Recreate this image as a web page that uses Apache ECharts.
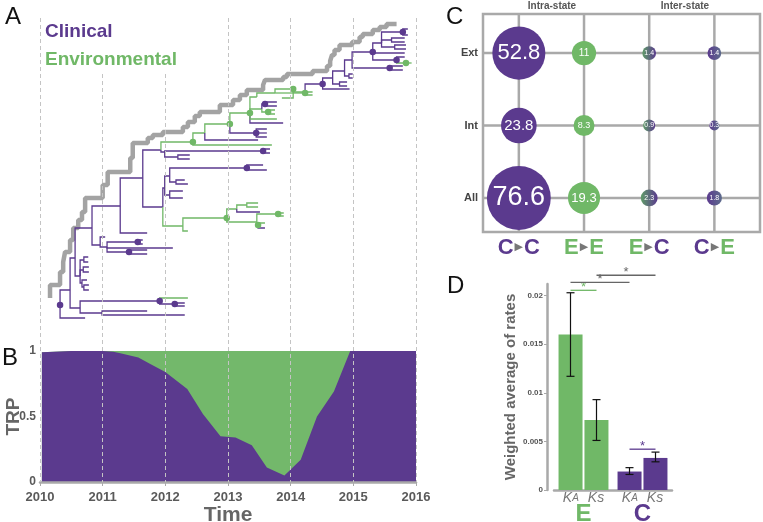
<!DOCTYPE html>
<html>
<head>
<meta charset="utf-8">
<script src="https://cdn.jsdelivr.net/npm/echarts@6/dist/echarts.min.js"></script>
<style>
html,body{margin:0;padding:0;background:#fff;}
#main{width:763px;height:522px;}
</style>
</head>
<body>
<div id="main"></div>
<script>
// colours
var PURPLE = '#5b3a8e', GREEN = '#70b867', AXIS = '#a9a9a9', TEXT = '#5a5a5a';
var FONT = '"Liberation Sans", Arial, sans-serif';

// ---- panel A : time-scaled tree (time in years, row = vertical slot, top to bottom)
var treeParent = [-1,0,0,1,3,4,5,5,4,3, 9,9,1,12,13,14,14,13,17,17,
  13,20,20,22,22,12,25,26,26,28, 29,29,28,32,32,28,25,36,36,38,
  38,40,41,42,43,43,42,46,46,41, 49,49,40,52,52,54,55,56,56,55,
  54,60,61,61,60,64,64,39,39,68, 69,69,68,72,72,67,67,76,76,78,
  79,79,79,78,83,83,83,86,87,87, 86,90,90,83,93,94,95,94,95,97,
  97,100,100,102,103,103,102,106,107,107, 106,110,110,112,112,111,111,116,117,116,
  115,120,120,115,123,123,115,126,126,111];
var treeTime = [2010.32,2010.48,2010.72,2010.64,2011.91,2012.15,2012.31,2012.31,2012.36,2010.99,
  2011.71,2012.31,2010.56,2010.64,2010.70,2010.77,2010.77,2010.69,2010.78,2010.78,
  2010.67,2010.75,2010.70,2010.78,2010.78,2010.83,2010.96,2011.04,2011.07,2011.42,
  2011.71,2011.71,2011.56,2011.64,2011.64,2012.12,2011.28,2011.71,2011.64,2011.93,
  2011.96,2011.99,2012.07,2013.30,2013.56,2013.62,2012.17,2012.31,2012.36,2012.07,
  2012.28,2012.28,2012.28,2012.36,2012.98,2013.14,2013.30,2013.48,2013.48,2013.51,
  2013.46,2013.80,2013.89,2013.89,2013.48,2013.59,2013.59,2012.44,2011.99,2013.56,
  2013.67,2013.67,2012.20,2012.39,2012.39,2013.70,2012.63,2013.48,2013.03,2013.45,
  2013.62,2013.62,2013.62,2013.35,2013.88,2013.78,2013.54,2013.64,2013.75,2013.75,
  2013.59,2013.78,2013.78,2013.46,2013.75,2014.04,2013.86,2014.23,2014.35,2014.35,
  2014.51,2014.94,2014.67,2014.78,2014.90,2014.90,2014.86,2014.93,2014.99,2014.99,
  2014.98,2015.31,2015.58,2015.79,2015.79,2015.45,2015.69,2015.84,2015.93,2015.82,
  2015.79,2015.87,2015.87,2015.61,2015.82,2015.82,2015.66,2015.84,2015.84,2015.82];
var treeRow = [305,290,318,308,301,304,303,306,298,313,
  311,315,258,276,260,257,262,270,267,272,
  283,280,287,285,290,228,245,237,247,252,
  250,254,242,240,244,248,206,233,178,150,
  207,188,176,168,165,170,182,180,184,195,
  191,198,226,231,218,209,205,203,207,212,
  222,214,213,216,225,223,228,142,152,151,
  149,153,157,155,159,145,133,140,124,133,
  129,133,137,113,123,119,109,112,110,114,
  104,102,106,97,93,89,98,93,92,95,
  84,89,78,84,82,86,71,76,74,78,
  60,52,68,66,70,43,60,63,63,57,
  32,29,35,40,38,42,47,45,49,53];
var envNodes = [8,52,53,54,55,56,57,58,60,61,62,63,64,65,67,75,76,78,83,85,86,87,88,89,93,94,95,96,97,98,99,117,118];
var dotNodes = [0,4,5,29,32,43,54,61,64,67,69,78,79,83,87,90,95,97,100,111,112,116,117,120];
var stairTime = [2010.16,2010.32,2010.37,2010.40,2010.48,2010.53,2010.61,2010.67,2010.72,2011.00,
  2011.08,2011.44,2011.48,2011.72,2011.80,2011.96,2012.28,2012.36,2012.47,2012.55,
  2012.87,2013.08,2013.19,2013.30,2013.56,2013.59,2013.88,2013.94,2014.35,2014.58,
  2014.63,2014.66,2014.70,2014.78,2014.98,2015.10,2015.15,2015.31,2015.42,2015.53,2015.69];
var stairRow = [298,285,272,262,252,240,228,220,212,198,
  185,172,158,143,138,135,132,127,122,116,
  112,105,100,95,90,85,80,77,74,71,
  66,61,55,50,45,42,37,34,30,27,24];

// ---- panel B : trunk reward proportion
var trpYears = [2010.03,2010.5,2010.8,2011.0,2011.17,2011.3,2011.57,2011.76,2012.0,2012.35,2012.6,
  2012.88,2013.12,2013.38,2013.62,2013.9,2014.16,2014.42,2014.69,2014.95,2015.5,2016.0];
var trpClinical = [0.99,1.0,1.0,1.0,0.995,0.98,0.95,0.90,0.84,0.71,0.52,
  0.35,0.34,0.28,0.11,0.05,0.17,0.50,0.69,1.0,1.0,1.0];
var trpEnvironmental = [0,0,0,0,0.005,0.02,0.05,0.10,0.16,0.29,0.48,
  0.65,0.66,0.72,0.89,0.95,0.83,0.50,0.31,0,0,0];

// ---- panel C : transition counts (rows All, Int, Ext)
var rowNames = ['All', 'Int', 'Ext'];
var colFrom = ['C', 'E', 'E', 'C'];
var colTo = ['C', 'E', 'C', 'E'];
var rateCC = [76.6, 23.8, 52.8];
var rateEE = [19.3, 8.3, 11];
var rateEC = [2.3, 0.9, 1.4];
var rateCE = [1.8, 0.3, 1.4];

// ---- panel D : weighted average of rates
var dGroups = ['E', 'C'];
var kaMean = [0.0160, 0.0019];
var ksMean = [0.0072, 0.0033];
var kaLow = [0.0117, 0.0016];
var kaHigh = [0.0203, 0.0023];
var ksLow = [0.0051, 0.0029];
var ksHigh = [0.0093, 0.0039];
var sigFrom = [0, 0, 1, 2];
var sigTo = [1, 2, 3, 3];
var sigLevel = [0.02055, 0.02137, 0.0221, 0.0042];

// ---------------------------------------------------------------
function isEnv(i) { return envNodes.indexOf(i) >= 0; }

var treeData = treeParent.map(function (p, i) {
  var q = p < 0 ? i : p;
  return [treeTime[q], treeTime[i], treeRow[q], treeRow[i], isEnv(i) ? 1 : 0];
});
var dotData = dotNodes.map(function (i) {
  return { value: [treeTime[i], treeRow[i]], itemStyle: { color: isEnv(i) ? GREEN : PURPLE } };
});
var stairData = stairTime.map(function (t, i) { return [t, stairRow[i]]; });
// stacked by hand: environmental sits on top of clinical
var clinData = trpYears.map(function (t, i) { return [t, trpClinical[i]]; });
var envTopData = trpYears.map(function (t, i) { return [t, trpClinical[i] + trpEnvironmental[i]]; });

var C_XMIN = -0.55, C_XMAX = 3.7, C_YMIN = -0.47, C_YMAX = 2.54;
var rateCols = [rateCC, rateEE, rateEC, rateCE];
var bubbleFill = [
  PURPLE, GREEN,
  new echarts.graphic.LinearGradient(0, 0, 1, 0, [{ offset: 0, color: '#5f9c68' }, { offset: 1, color: PURPLE }]),
  new echarts.graphic.LinearGradient(0, 0, 1, 0, [{ offset: 0, color: PURPLE }, { offset: 1, color: '#5d6c8c' }])
];
function bubbleSize(v) {
  return Math.max(7.3 * Math.sqrt(v), 9 + 3.4 * Math.min(v, 2.5));
}
var bubbles = [];
rateCols.forEach(function (col, c) {
  col.forEach(function (v, r) {
    var d = bubbleSize(v);
    bubbles.push({ value: [c, r, v], itemStyle: { color: bubbleFill[c], opacity: 1 },
      label: { fontSize: Math.max(7, Math.round(d * 0.42)) } });
  });
});
var cGrid = [];
colFrom.forEach(function (f, c) { cGrid.push([c, C_YMIN, c, C_YMAX]); });
rowNames.forEach(function (n, r) { cGrid.push([C_XMIN, r, C_XMAX, r]); });

var errData = [];
dGroups.forEach(function (g, i) {
  errData.push([i, kaLow[i], kaHigh[i], -1]);
  errData.push([i, ksLow[i], ksHigh[i], 1]);
});
var sigColors = [GREEN, '#666', '#666', PURPLE];
var sigData = sigFrom.map(function (f, i) { return [f, sigTo[i], sigLevel[i], i]; });
var BAR_OFF = 13;

var chart = echarts.init(document.getElementById('main'));
chart.setOption({
  animation: false,
  backgroundColor: '#fff',
  textStyle: { fontFamily: FONT },
  grid: [
    { left: 40, top: 18, width: 376, height: 464, outerBoundsMode: 'none' },
    { left: 40, top: 351, width: 376, height: 131, outerBoundsMode: 'none' },
    { left: 483, top: 14, width: 277, height: 218, show: true, borderColor: AXIS, borderWidth: 2.5,
      outerBoundsMode: 'none' },
    { left: 554, top: 284, width: 118, height: 206, outerBoundsMode: 'none' }
  ],
  xAxis: [
    { gridIndex: 0, type: 'value', min: 2010, max: 2016, interval: 1, z: 5,
      axisLine: { show: false }, axisTick: { show: false }, axisLabel: { show: false },
      splitLine: { show: true, lineStyle: { type: [4, 3], color: '#c4c4c4', width: 1 } } },
    { gridIndex: 1, type: 'value', min: 2010, max: 2016, interval: 1, z: 3,
      axisLine: { lineStyle: { color: AXIS, width: 2.5 } },
      axisTick: { show: true, length: 4, lineStyle: { color: AXIS, width: 1 } },
      axisLabel: { margin: 9, color: TEXT, fontWeight: 'bold', fontSize: 13,
        formatter: function (v) { return String(v); } },
      splitLine: { show: false },
      name: 'Time', nameLocation: 'middle', nameGap: 20,
      nameTextStyle: { color: '#666', fontWeight: 'bold', fontSize: 21 } },
    { gridIndex: 2, type: 'value', min: C_XMIN, max: C_XMAX,
      axisLine: { show: false }, axisTick: { show: false }, splitLine: { show: false },
      axisLabel: { customValues: [0, 1, 2, 3], margin: 5,
        formatter: function (v) {
          var c = Math.round(v);
          return '{' + colFrom[c] + '|' + colFrom[c] + '}{t|\u25B6}{' + colTo[c] + '|' + colTo[c] + '}';
        },
        rich: {
          C: { color: PURPLE, fontSize: 22, fontWeight: 'bold', fontFamily: FONT },
          E: { color: GREEN, fontSize: 22, fontWeight: 'bold', fontFamily: FONT },
          t: { color: '#777', fontSize: 11, fontFamily: 'DejaVu Sans', padding: [0, 1, 2, 1] }
        } } },
    { gridIndex: 3, type: 'category', data: dGroups,
      axisLine: { lineStyle: { color: AXIS, width: 2.5 } }, axisTick: { show: false },
      axisLabel: { margin: 2, interval: 0,
        formatter: function (v) {
          return '{k|K}{a|A}{g|}{k|K}{s|s}\n{' + v + '|' + v + '}';
        },
        rich: {
          k: { fontStyle: 'italic', fontSize: 14, color: '#777', lineHeight: 13 },
          a: { fontStyle: 'italic', fontSize: 10, color: '#777', lineHeight: 13 },
          s: { fontStyle: 'italic', fontSize: 14, color: '#777', lineHeight: 13 },
          g: { width: 9 },
          E: { fontSize: 24, fontWeight: 'bold', color: GREEN, lineHeight: 19 },
          C: { fontSize: 24, fontWeight: 'bold', color: PURPLE, lineHeight: 19 }
        } } }
  ],
  yAxis: [
    { gridIndex: 0, type: 'value', min: 18, max: 482, inverse: true, show: false },
    { gridIndex: 1, type: 'value', min: 0, max: 1, interval: 0.5,
      axisLine: { show: false }, axisTick: { show: false }, splitLine: { show: false },
      axisLabel: { margin: 4, color: TEXT, fontWeight: 'bold', fontSize: 12 },
      name: 'TRP', nameLocation: 'middle', nameGap: 17, nameMoveOverlap: false,
      nameTextStyle: { color: '#666', fontWeight: 'bold', fontSize: 19 } },
    { gridIndex: 2, type: 'value', min: C_YMIN, max: C_YMAX,
      axisLine: { show: false }, axisTick: { show: false }, splitLine: { show: false },
      axisLabel: { customValues: [0, 1, 2], margin: 5, color: '#444', fontWeight: 'bold', fontSize: 11,
        formatter: function (v) { return rowNames[Math.round(v)]; } } },
    { gridIndex: 3, type: 'value', min: 0, max: 0.0212, interval: 0.005, offset: 7,
      axisLine: { show: true, lineStyle: { color: AXIS, width: 2.5 } },
      axisTick: { show: true, length: 3, lineStyle: { color: AXIS } },
      splitLine: { show: false },
      axisLabel: { margin: 4, color: '#555', fontWeight: 'bold', fontSize: 8, showMaxLabel: false },
      name: 'Weighted average of rates', nameLocation: 'middle', nameGap: 29,
      nameTextStyle: { color: '#666', fontWeight: 'bold', fontSize: 15 } }
  ],
  series: [
    { type: 'line', name: 'lineages', xAxisIndex: 0, yAxisIndex: 0, data: stairData, step: 'start',
      symbol: 'none', lineStyle: { color: '#a3a3a3', width: 4.5 }, z: 2, silent: true },
    { type: 'custom', name: 'tree', xAxisIndex: 0, yAxisIndex: 0, data: treeData, z: 3,
      encode: { x: [0, 1], y: [2, 3] },
      renderItem: function (params, api) {
        var a = api.coord([api.value(0), api.value(2)]);
        var b = api.coord([api.value(0), api.value(3)]);
        var c = api.coord([api.value(1), api.value(3)]);
        return { type: 'polyline', shape: { points: [a, b, c] },
          style: { stroke: api.value(4) ? GREEN : PURPLE, lineWidth: 1.3, fill: 'none' } };
      } },
    { type: 'scatter', name: 'nodes', xAxisIndex: 0, yAxisIndex: 0, data: dotData,
      symbolSize: 6.5, itemStyle: { opacity: 1 }, z: 4 },
    { type: 'line', name: 'Environmental', xAxisIndex: 1, yAxisIndex: 1, data: envTopData,
      symbol: 'none', lineStyle: { width: 0 }, areaStyle: { color: '#73b86b', opacity: 1 }, z: 1 },
    { type: 'line', name: 'Clinical', xAxisIndex: 1, yAxisIndex: 1, data: clinData,
      symbol: 'none', lineStyle: { width: 0 }, areaStyle: { color: PURPLE, opacity: 1 }, z: 2 },
    { type: 'custom', name: 'cgrid', xAxisIndex: 2, yAxisIndex: 2, data: cGrid, z: 1, silent: true,
      encode: { x: [0, 2], y: [1, 3] },
      renderItem: function (params, api) {
        var a = api.coord([api.value(0), api.value(1)]);
        var b = api.coord([api.value(2), api.value(3)]);
        return { type: 'line', shape: { x1: a[0], y1: a[1], x2: b[0], y2: b[1] },
          style: { stroke: AXIS, lineWidth: 2.5 } };
      } },
    { type: 'scatter', name: 'transitions', xAxisIndex: 2, yAxisIndex: 2, data: bubbles, z: 3,
      symbolSize: function (val) { return bubbleSize(val[2]); },
      label: { show: true, position: 'inside', color: '#fff', fontFamily: FONT,
        formatter: function (p) { return p.value[2]; } } },
    { type: 'bar', name: 'KA', xAxisIndex: 3, yAxisIndex: 3, data: kaMean, barWidth: 24, barGap: '8%',
      itemStyle: { color: function (p) { return p.dataIndex === 0 ? GREEN : PURPLE; } } },
    { type: 'bar', name: 'Ks', xAxisIndex: 3, yAxisIndex: 3, data: ksMean, barWidth: 24, barGap: '8%',
      itemStyle: { color: function (p) { return p.dataIndex === 0 ? GREEN : PURPLE; } } },
    { type: 'custom', name: 'errors', xAxisIndex: 3, yAxisIndex: 3, data: errData, z: 5,
      encode: { x: 0, y: [1, 2] },
      renderItem: function (params, api) {
        var lo = api.coord([api.value(0), api.value(1)]);
        var hi = api.coord([api.value(0), api.value(2)]);
        var x = lo[0] + api.value(3) * BAR_OFF;
        var st = { stroke: '#111', lineWidth: 1.2 };
        return { type: 'group', children: [
          { type: 'line', shape: { x1: x, y1: lo[1], x2: x, y2: hi[1] }, style: st },
          { type: 'line', shape: { x1: x - 4, y1: lo[1], x2: x + 4, y2: lo[1] }, style: st },
          { type: 'line', shape: { x1: x - 4, y1: hi[1], x2: x + 4, y2: hi[1] }, style: st }
        ] };
      } },
    { type: 'custom', name: 'significance', xAxisIndex: 3, yAxisIndex: 3, data: sigData, z: 5, clip: false,
      encode: { y: 2 },
      renderItem: function (params, api) {
        var f = api.value(0), t = api.value(1), lv = api.value(2);
        var p1 = api.coord([Math.floor(f / 2), lv]);
        var p2 = api.coord([Math.floor(t / 2), lv]);
        var x1 = p1[0] + (f % 2 ? BAR_OFF : -BAR_OFF);
        var x2 = p2[0] + (t % 2 ? BAR_OFF : -BAR_OFF);
        var col = sigColors[api.value(3)];
        return { type: 'group', children: [
          { type: 'line', shape: { x1: x1, y1: p1[1], x2: x2, y2: p1[1] }, style: { stroke: col, lineWidth: 1.3 } },
          { type: 'text', x: (x1 + x2) / 2, y: p1[1] + 4,
            style: { text: '*', fill: col, font: '13px ' + FONT, align: 'center', verticalAlign: 'bottom' } }
        ] };
      } }
  ],
  graphic: [
    { type: 'rect', shape: { x: 43, y: 18, width: 142, height: 56 }, style: { fill: '#fff' }, z: 10 },
    { type: 'text', x: 45, y: 22, z: 11,
      style: { text: 'Clinical', fill: PURPLE, font: 'bold 19px ' + FONT } },
    { type: 'text', x: 45, y: 50, z: 11,
      style: { text: 'Environmental', fill: GREEN, font: 'bold 19px ' + FONT } },
    { type: 'text', x: 5, y: 5, z: 11, style: { text: 'A', fill: '#111', font: '24px ' + FONT } },
    { type: 'text', x: 2, y: 346, z: 11, style: { text: 'B', fill: '#111', font: '24px ' + FONT } },
    { type: 'text', x: 446, y: 5, z: 11, style: { text: 'C', fill: '#111', font: '24px ' + FONT } },
    { type: 'text', x: 447, y: 274, z: 11, style: { text: 'D', fill: '#111', font: '24px ' + FONT } },
    { type: 'text', x: 552, y: 1, z: 11,
      style: { text: 'Intra-state', fill: '#555', font: 'bold 10px ' + FONT, align: 'center' } },
    { type: 'text', x: 685, y: 1, z: 11,
      style: { text: 'Inter-state', fill: '#555', font: 'bold 10px ' + FONT, align: 'center' } }
  ]
});
</script>
</body>
</html>
